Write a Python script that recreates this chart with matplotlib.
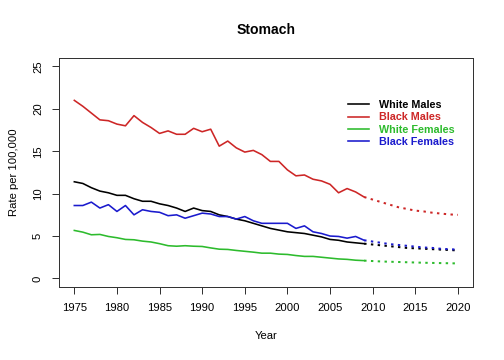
import numpy as np
import matplotlib
matplotlib.use("Agg")
import matplotlib.pyplot as plt

plt.rcParams['font.family'] = ['Liberation Sans', 'DejaVu Sans']

# observed rates 1975-2009
years = list(range(1975, 2010))
white_males = [11.4, 11.2, 10.7, 10.3, 10.1, 9.8, 9.8, 9.4, 9.1, 9.1,
               8.8, 8.6, 8.3, 7.9, 8.3, 8.0, 7.9, 7.5, 7.3, 7.0,
               6.8, 6.5, 6.2, 5.9, 5.7, 5.5, 5.4, 5.3, 5.1, 4.9,
               4.6, 4.5, 4.3, 4.2, 4.1]
black_males = [21.0, 20.3, 19.5, 18.7, 18.6, 18.2, 18.0, 19.2, 18.4, 17.8,
               17.1, 17.4, 17.0, 17.0, 17.7, 17.3, 17.6, 15.6, 16.2, 15.4,
               14.9, 15.1, 14.6, 13.8, 13.8, 12.8, 12.1, 12.2, 11.7, 11.5,
               11.1, 10.1, 10.6, 10.2, 9.6]
white_females = [5.66, 5.46, 5.15, 5.19, 4.95, 4.8, 4.6, 4.56, 4.4, 4.3,
                 4.1, 3.86, 3.8, 3.86, 3.8, 3.77, 3.6, 3.45, 3.42, 3.3,
                 3.2, 3.1, 2.98, 2.98, 2.87, 2.83, 2.7, 2.6, 2.6, 2.5,
                 2.4, 2.3, 2.25, 2.15, 2.1]
black_females = [8.6, 8.6, 9.0, 8.3, 8.7, 7.9, 8.6, 7.5, 8.1, 7.9,
                 7.8, 7.4, 7.5, 7.1, 7.4, 7.7, 7.6, 7.3, 7.3, 7.0,
                 7.3, 6.8, 6.5, 6.5, 6.5, 6.5, 5.9, 6.2, 5.5, 5.3,
                 5.0, 4.95, 4.75, 4.95, 4.5]

# projections 2009-2020
proj_years = list(range(2009, 2021))
wm_proj = [4.1, 4.0, 3.9, 3.8, 3.7, 3.6, 3.55, 3.5, 3.45, 3.4, 3.35, 3.3]
bm_proj = [9.6, 9.3, 9.0, 8.7, 8.4, 8.2, 8.0, 7.9, 7.75, 7.65, 7.55, 7.5]
wf_proj = [2.1, 2.05, 2.0, 1.97, 1.94, 1.91, 1.88, 1.85, 1.83, 1.81, 1.79, 1.77]
bf_proj = [4.5, 4.35, 4.2, 4.05, 3.95, 3.85, 3.75, 3.65, 3.6, 3.5, 3.45, 3.4]

labels = ['White Males', 'Black Males', 'White Females', 'Black Females']
colors = ['black', '#cd2626', '#2dbb2d', '#1a1acd']

fig = plt.figure(figsize=(7, 5), dpi=72)
ax = fig.add_axes([0.117, 0.203, 0.822, 0.636])

obs = [white_males, black_males, white_females, black_females]
proj = [wm_proj, bm_proj, wf_proj, bf_proj]
for series, p, c, lab in zip(obs, proj, colors, labels):
    ax.plot(years, series, color=c, lw=1.6, label=lab)
    ax.plot(proj_years, p, color=c, lw=2.0, linestyle=(0, (1.2, 2.2)))

ax.set_xlim(1973.2, 2021.8)
ax.set_ylim(-1, 26)
ax.set_xticks(range(1975, 2021, 5))
ax.set_yticks(range(0, 26, 5))
ax.tick_params(direction='out', length=7, labelsize=11.3, width=1,
               color='#333333')
ax.tick_params(axis='x', pad=9)
ax.tick_params(axis='y', pad=9)
for t in ax.get_yticklabels():
    t.set_rotation(90)
    t.set_va('center')
for s in ax.spines.values():
    s.set_color('#333333')
    s.set_linewidth(1)

ax.set_title('Stomach', fontsize=14, fontweight='bold', pad=24)
ax.set_xlabel('Year', fontsize=11.3, labelpad=18)
ax.set_ylabel('Rate per 100,000', fontsize=11.3, labelpad=14)

leg = ax.legend(loc='upper left', bbox_to_anchor=(0.688, 0.835), frameon=False,
                fontsize=10.8, handlelength=1.9, handletextpad=0.9,
                labelspacing=0.22, borderaxespad=0)
for text, c in zip(leg.get_texts(), colors):
    text.set_color(c)
    text.set_fontweight('bold')

fig.savefig('out.png', dpi=72)
